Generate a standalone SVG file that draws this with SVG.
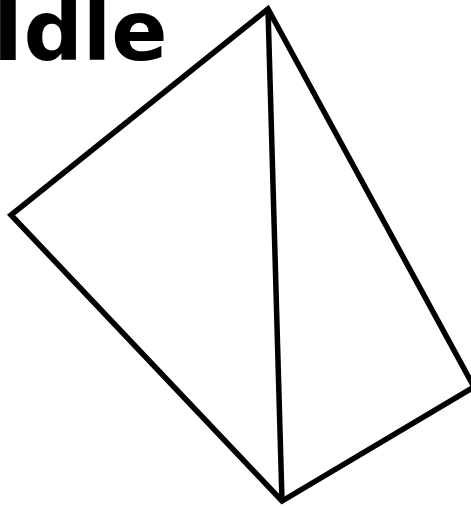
<svg xmlns="http://www.w3.org/2000/svg" width="471" height="508" viewBox="0 0 471 508">
<style>
.edge{fill:none;stroke:#000;stroke-width:5.5;stroke-linejoin:miter;stroke-linecap:butt}
.lbl{font-family:"DejaVu Sans",sans-serif;font-weight:bold;font-size:83px;fill:#000}
</style>
<rect width="471" height="508" fill="#fff"/>
<g id="label"><text class="lbl" x="-7.5" y="60">Idle</text></g>
<g id="connectors">
<polygon class="edge" points="268,9 11,215 282,501 474,387"/>
<line class="edge" x1="268" y1="9" x2="282" y2="501"/>
</g>
</svg>
